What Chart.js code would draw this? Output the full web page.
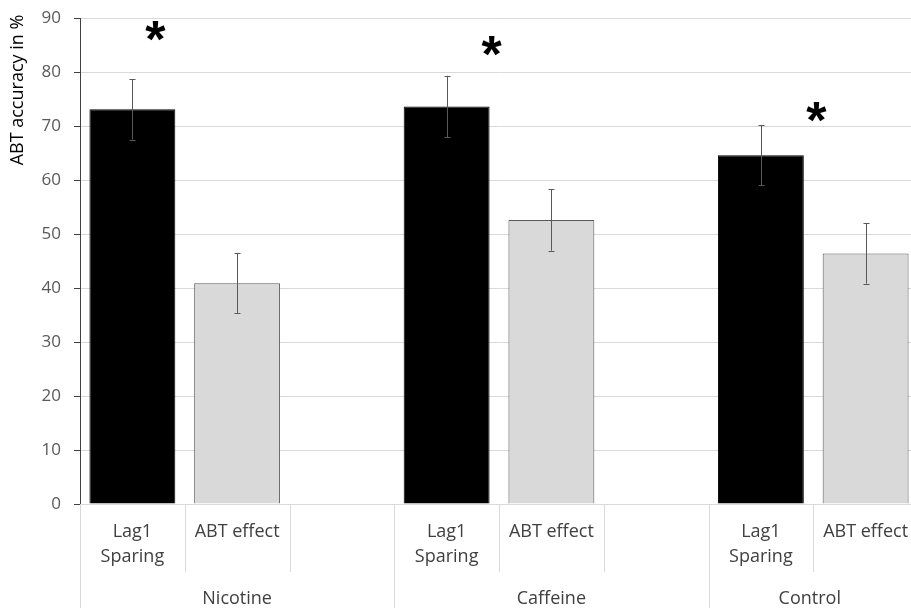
<!DOCTYPE html>
<html>
<head>
<meta charset="utf-8">
<script src="https://cdn.jsdelivr.net/npm/chart.js@4"></script>
<style>
  html, body { margin: 0; padding: 0; background: #fff; overflow: hidden; }
  #wrap { width: 918px; height: 608px; }
</style>
</head>
<body>
<div id="wrap"><canvas id="myChart"></canvas></div>
<script>
// categories: 3 groups, each Lag1 Sparing / ABT effect / empty slot
const groups = ['Nicotine', 'Caffeine', 'Control'];
const groupSizes = [3, 3, 2];
const categories = [
  ['Lag1', 'Sparing'], 'ABT effect', '',
  ['Lag1', 'Sparing'], 'ABT effect', '',
  ['Lag1', 'Sparing'], 'ABT effect'
];
const accuracy = [73.1, 40.9, null, 73.6, 52.6, null, 64.6, 46.4];
const errors = [5.6, 5.6, null, 5.7, 5.7, null, 5.6, 5.6];
const barColors = ['#000000', '#d9d9d9', null, '#000000', '#d9d9d9', null, '#000000', '#d9d9d9'];
const barBorders = ['#000000', '#595959', null, '#000000', '#595959', null, '#000000', '#595959'];
const yTicks = [0, 10, 20, 30, 40, 50, 60, 70, 80, 90];
// significance stars (x as category position, y in %)
const starX = [0.22, 3.43, 6.53];
const starY = [86.9, 84.1, 72.0];

const extras = {
  id: 'extras',
  afterDatasetsDraw(chart) {
    const ctx = chart.ctx;
    const x = chart.scales.x;
    const y = chart.scales.y;
    const area = chart.chartArea;

    // error bars
    ctx.save();
    ctx.strokeStyle = '#595959';
    ctx.lineWidth = 1;
    accuracy.forEach(function (v, i) {
      if (v === null) return;
      const px = Math.round(x.getPixelForValue(i)) + 0.5;
      const top = y.getPixelForValue(v + errors[i]);
      const bot = y.getPixelForValue(v - errors[i]);
      ctx.beginPath();
      ctx.moveTo(px, top); ctx.lineTo(px, bot);
      ctx.moveTo(px - 3, Math.round(top) + 0.5); ctx.lineTo(px + 3, Math.round(top) + 0.5);
      ctx.moveTo(px - 3, Math.round(bot) + 0.5); ctx.lineTo(px + 3, Math.round(bot) + 0.5);
      ctx.stroke();
    });

    // stars
    ctx.fillStyle = '#000';
    ctx.font = 'bold 52px "Liberation Sans"';
    ctx.textAlign = 'center';
    ctx.textBaseline = 'middle';
    starX.forEach(function (sx, i) {
      ctx.fillText('*', x.getPixelForValue(sx), y.getPixelForValue(starY[i]) + 8);
    });

    // category dividers below the axis
    ctx.strokeStyle = '#d9d9d9';
    const h = chart.height;
    let idx = 0;
    const bounds = [];
    groupSizes.forEach(function (n, g) {
      for (let k = 0; k < n; k++) {
        const left = idx === 0 ? area.left : (x.getPixelForValue(idx - 1) + x.getPixelForValue(idx)) / 2;
        bounds.push({ px: left, full: k === 0 });
        idx++;
      }
    });
    bounds.forEach(function (b) {
      const px = Math.round(b.px) + 0.5;
      ctx.beginPath();
      ctx.moveTo(px, area.bottom);
      ctx.lineTo(px, b.full ? h : area.bottom + 68);
      ctx.stroke();
    });

    // group labels
    ctx.fillStyle = '#404040';
    ctx.font = '18px "Open Sans"';
    ctx.textBaseline = 'middle';
    idx = 0;
    groups.forEach(function (name, g) {
      const left = idx === 0 ? area.left : (x.getPixelForValue(idx - 1) + x.getPixelForValue(idx)) / 2;
      const last = idx + groupSizes[g] - 1;
      let right = (x.getPixelForValue(last) + x.getPixelForValue(last + 1)) / 2;
      right = Math.min(right, 911);
      ctx.fillText(name, (left + right) / 2, 599);
      idx += groupSizes[g];
    });

    // y axis title
    ctx.save();
    ctx.translate(18, 90);
    ctx.rotate(-Math.PI / 2);
    ctx.fillStyle = '#000';
    ctx.font = '18px "Open Sans"';
    ctx.fillText('ABT accuracy in %', 0, 0);
    ctx.restore();
    ctx.restore();
  }
};

new Chart(document.getElementById('myChart'), {
  type: 'bar',
  data: {
    labels: categories,
    datasets: [{
      data: accuracy,
      backgroundColor: barColors,
      borderColor: barBorders,
      borderWidth: 1,
      categoryPercentage: 1,
      barPercentage: 0.82
    }]
  },
  options: {
    responsive: true,
    maintainAspectRatio: false,
    animation: false,
    layout: { padding: { top: 18, left: 0, right: 0, bottom: 0 } },
    plugins: { legend: { display: false }, tooltip: { enabled: false } },
    scales: {
      x: {
        offset: true,
        grid: { display: false },
        border: { display: false },
        ticks: {
          color: '#404040',
          font: { family: 'Open Sans', size: 18, lineHeight: 1.4 },
          padding: 7,
          maxRotation: 0,
          autoSkip: false
        },
        afterFit: function (scale) { scale.height = 104; }
      },
      y: {
        min: 0,
        max: 90,
        afterBuildTicks: function (scale) {
          scale.ticks = yTicks.map(function (v) { return { value: v }; });
        },
        grid: { color: '#d9d9d9', tickColor: '#404040', tickLength: 6 },
        border: { display: true, color: '#404040' },
        ticks: {
          color: '#595959',
          font: { family: 'Open Sans', size: 17 },
          padding: 13
        },
        afterFit: function (scale) {
          scale.width = 80;
          scale.paddingTop = 0;
          scale.paddingBottom = 0;
        }
      }
    }
  },
  plugins: [extras]
});
</script>
</body>
</html>
